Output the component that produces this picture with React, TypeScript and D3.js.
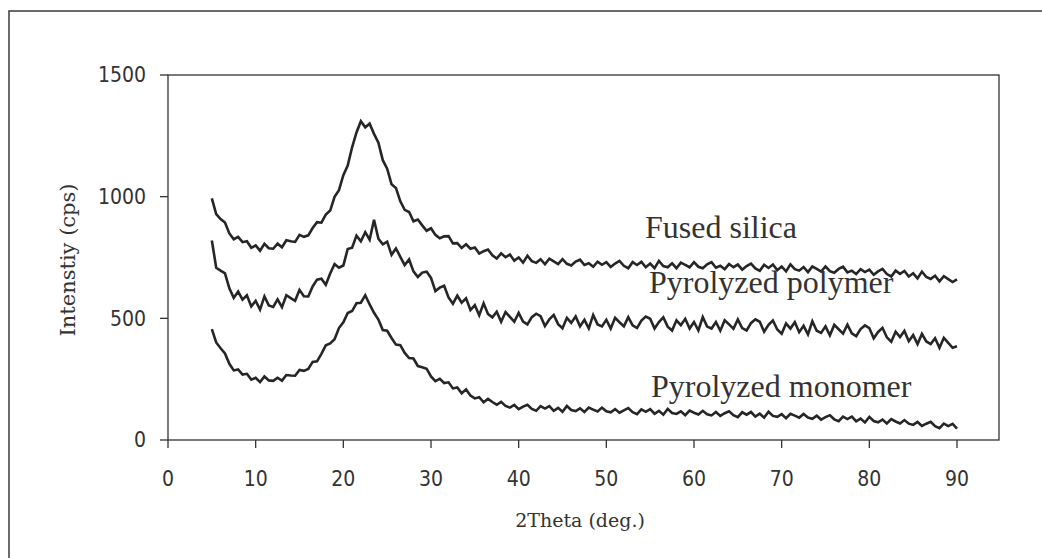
import React from "react";
import * as d3 from "d3";

// 2Theta grid (deg.), 0.5 deg sampling from 5 to 90
const theta: number[] = d3.range(5, 90.25, 0.5);

const fusedSilica: number[] = [
  993, 928, 908, 894, 849, 825, 835, 813, 817, 790, 800, 778, 806, 788, 786, 807, 792, 821, 817, 814,
  843, 835, 841, 871, 895, 893, 926, 943, 999, 1027, 1088, 1128, 1203, 1264, 1310, 1285, 1300, 1258, 1222, 1150,
  1115, 1051, 1036, 981, 946, 937, 899, 906, 882, 860, 870, 843, 829, 837, 838, 808, 809, 789, 804, 786,
  791, 766, 776, 783, 759, 746, 767, 751, 762, 737, 750, 729, 757, 735, 728, 743, 722, 745, 734, 723,
  743, 724, 717, 733, 741, 719, 726, 712, 733, 720, 731, 711, 725, 736, 716, 706, 731, 719, 732, 710,
  725, 706, 736, 715, 710, 726, 706, 729, 720, 710, 731, 712, 706, 722, 731, 708, 716, 702, 723, 710,
  721, 700, 715, 725, 705, 695, 720, 707, 721, 698, 713, 693, 722, 702, 696, 711, 690, 713, 703, 692,
  713, 694, 687, 703, 712, 689, 696, 682, 702, 690, 700, 679, 693, 703, 682, 672, 696, 683, 695, 672,
  685, 664, 692, 670, 662, 675, 652, 673, 661, 649, 660,
];

const pyrolyzedPolymer: number[] = [
  820, 708, 696, 685, 623, 584, 610, 577, 595, 549, 572, 536, 590, 553, 547, 578, 546, 595, 583, 572,
  617, 591, 590, 631, 659, 663, 638, 684, 723, 708, 717, 785, 790, 840, 817, 854, 823, 905, 827, 804,
  815, 761, 787, 753, 719, 742, 693, 670, 688, 692, 666, 612, 626, 634, 586, 560, 593, 564, 582, 534,
  554, 513, 562, 518, 504, 527, 486, 526, 506, 486, 522, 487, 475, 505, 519, 509, 468, 496, 514, 476,
  459, 502, 481, 508, 467, 494, 459, 514, 475, 467, 494, 458, 502, 484, 467, 505, 471, 460, 491, 507,
  498, 458, 485, 504, 466, 450, 492, 472, 498, 458, 485, 450, 505, 466, 458, 485, 449, 492, 475, 457,
  495, 460, 450, 480, 496, 486, 445, 473, 491, 454, 437, 479, 458, 484, 443, 469, 434, 488, 449, 440,
  467, 430, 473, 455, 437, 474, 438, 427, 456, 471, 460, 418, 444, 461, 422, 404, 445, 423, 448, 406,
  431, 394, 436, 405, 394, 418, 379, 420, 399, 379, 385,
];

const pyrolyzedMonomer: number[] = [
  456, 401, 377, 356, 313, 286, 290, 269, 272, 248, 256, 238, 261, 245, 243, 256, 244, 267, 265, 264,
  288, 284, 292, 321, 323, 354, 389, 397, 414, 460, 484, 522, 530, 562, 564, 595, 557, 523, 495, 452,
  449, 419, 392, 390, 358, 337, 335, 304, 299, 293, 261, 242, 251, 234, 237, 212, 216, 192, 208, 183,
  171, 176, 155, 169, 156, 145, 157, 140, 133, 144, 127, 137, 145, 128, 120, 139, 129, 139, 120, 132,
  116, 140, 123, 119, 130, 115, 133, 125, 117, 133, 118, 114, 127, 112, 122, 131, 114, 106, 126, 116,
  127, 108, 120, 104, 128, 111, 107, 118, 102, 121, 112, 105, 120, 106, 101, 115, 99, 110, 118, 102,
  94, 114, 104, 115, 96, 108, 92, 116, 99, 95, 106, 90, 108, 100, 92, 107, 92, 87, 100, 84,
  94, 102, 85, 77, 96, 86, 96, 77, 88, 72, 95, 78, 73, 84, 68, 86, 76, 68, 82, 67,
  62, 74, 58, 67, 75, 57, 49, 67, 57, 66, 47,
];

const xTicks: number[] = [0, 10, 20, 30, 40, 50, 60, 70, 80, 90];
const yTicks: number[] = [0, 500, 1000, 1500];

const seriesLabels: string[] = ["Fused silica", "Pyrolyzed polymer", "Pyrolyzed monomer"];
const xTitle = "2Theta (deg.)";
const yTitle = "Intenstiy (cps)";

export default function App() {
  const W = 1042;
  const H = 558;
  const left = 168;
  const right = 999;
  const top = 75;
  const bottom = 440;

  const x = d3.scaleLinear().domain([0, 90]).range([left, 957]);
  const y = d3.scaleLinear().domain([0, 1500]).range([bottom, top]);

  const line = d3
    .line<number>()
    .x((_, i) => x(theta[i]))
    .y((d) => y(d));

  const series = [fusedSilica, pyrolyzedPolymer, pyrolyzedMonomer];
  const labelPos = [
    { x: 645, y: 238 },
    { x: 649, y: 293 },
    { x: 651, y: 397 },
  ];

  const tickFont = "'DejaVu Sans Condensed', 'Liberation Sans Narrow', sans-serif";
  const titleFont = "'DejaVu Serif', serif";

  return (
    <svg
      width={W}
      height={H}
      style={{ position: "absolute", left: 0, top: 0, background: "#fff" }}
    >
      <rect x={0} y={0} width={W} height={H} fill="#fff" />
      <rect x={9} y={11} width={1100} height={600} fill="none" stroke="#3a3a3a" strokeWidth={1.5} />
      <rect x={left} y={top} width={right - left} height={bottom - top} fill="none" stroke="#333" strokeWidth={1.3} />

      {series.map((s, i) => (
        <path
          key={i}
          d={line(s) || ""}
          fill="none"
          stroke="#262626"
          strokeWidth={2.6}
          strokeLinejoin="miter"
        />
      ))}

      {yTicks.map((t) => (
        <g key={"y" + t}>
          <line x1={left - 8} x2={left} y1={y(t)} y2={y(t)} stroke="#333" strokeWidth={1.3} />
          <text
            x={left - 22}
            y={y(t)}
            dy="0.35em"
            textAnchor="end"
            fontFamily={tickFont}
            fontSize={21}
            fill="#333"
          >
            {t}
          </text>
        </g>
      ))}

      {xTicks.map((t) => (
        <g key={"x" + t}>
          <line x1={x(t)} x2={x(t)} y1={bottom} y2={bottom + 8} stroke="#333" strokeWidth={1.3} />
          <text
            x={x(t)}
            y={486}
            textAnchor="middle"
            fontFamily={tickFont}
            fontSize={21}
            fill="#333"
          >
            {t}
          </text>
        </g>
      ))}

      <text
        x={580}
        y={527}
        textAnchor="middle"
        fontFamily={titleFont}
        fontSize={19}
        fill="#333"
      >
        {xTitle}
      </text>
      <text
        transform={`translate(75,260) rotate(-90)`}
        textAnchor="middle"
        fontFamily={titleFont}
        fontSize={21}
        fill="#333"
      >
        {yTitle}
      </text>

      {seriesLabels.map((lab, i) => (
        <text
          key={lab}
          x={labelPos[i].x}
          y={labelPos[i].y}
          fontFamily="'Liberation Serif', 'Times New Roman', serif"
          fontSize={32}
          fill="#333"
        >
          {lab}
        </text>
      ))}
    </svg>
  );
}
